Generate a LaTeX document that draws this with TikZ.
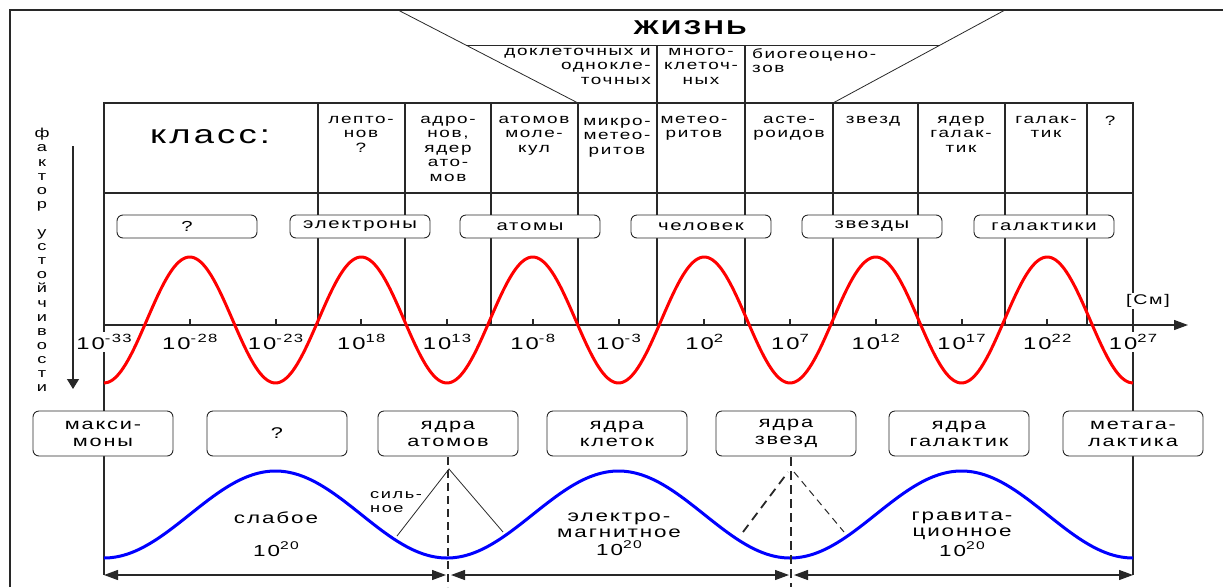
\documentclass[tikz,border=0pt]{standalone}
\usepackage{fontspec}
\setmainfont{Liberation Sans}[FakeStretch=1.4,LetterSpace=12]
\usetikzlibrary{positioning,arrows.meta}
\definecolor{Ink}{RGB}{40,40,40}
\definecolor{WaveRed}{RGB}{255,0,0}
\definecolor{WaveBlue}{RGB}{0,0,255}
\newcommand\tenp[1]{10\raisebox{0.42em}{\scalebox{0.7}{#1}}}

\begin{document}
\begin{tikzpicture}[x=1pt,y=-1pt,
    gridline/.style={draw=Ink,line width=1.2pt},
    hairline/.style={draw=Ink,line width=0.8pt},
    cellText/.style={anchor=north,align=center,inner sep=0pt,font=\fontsize{13.5}{14.5}\selectfont},
    scaleBox/.style={rectangle,rounded corners=6pt,draw=Ink,line width=0.9pt,fill=white,
                minimum width=140pt,minimum height=23pt,font=\fontsize{14.5}{16}\selectfont},
    coreBox/.style={scaleBox,minimum height=45pt,align=center,font=\fontsize{15.5}{17}\selectfont},
    expLabel/.style={font=\fontsize{17}{17}\selectfont,fill=white,inner xsep=1pt,inner ysep=2pt},
    redWave/.style={WaveRed,line width=3pt,line join=round},
    blueWave/.style={WaveBlue,line width=3pt,line join=round},
    forceArrow/.style={<->,>={Triangle[length=14pt,width=10pt]},line width=1.2pt,Ink},
    forceText/.style={align=center,font=\fontsize{16}{16.5}\selectfont}
]
\useasboundingbox (0,0) rectangle (1223,587);

% Frame
\draw[gridline,line width=1.6pt] (10,587) -- (10,10) -- (1223,10);

% Life band
\draw[hairline] (398,10) -- (578,103);
\draw[hairline] (1005,10) -- (833,103);
\draw[hairline] (466,45) -- (940,45);
\draw[gridline] (657,45) -- (657,103) (745,45) -- (745,103);
\node[font=\fontsize{20}{20}\selectfont\bfseries] (life) at (690,28) {ЖИЗНЬ};
\node[cellText,anchor=north east,align=right] (precell) at (651,48) {доклеточных и\\однокле-\\точных};
\node[cellText] (multicell) at (701,48) {много-\\клеточ-\\ных};
\node[cellText,anchor=north west,align=left] (biogeo) at (752,48) {биогеоцено-\\зов};

% Class table
\draw[gridline] (104,103) rectangle (1133,193);
\foreach \cx in {318,405,491,578,657,745,833,918,1005,1087}
  \draw[gridline] (\cx,103) -- (\cx,325);
\draw[gridline] (104,193) -- (104,575);
\draw[gridline] (1133,193) -- (1133,575);

\node[font=\fontsize{26}{26}\selectfont] (class) at (210,137) {класс:};
\node[cellText] (lepton) at (361,116) {лепто-\\нов\\?};
\node[cellText] (hadron) at (448,116) {адро-\\нов,\\ядер\\ато-\\мов};
\node[cellText] (atommol) at (534,116) {атомов\\моле-\\кул};
\node[cellText] (micromet) at (617,118) {микро-\\метео-\\ритов};
\node[cellText] (meteor) at (694,116) {метео-\\ритов};
\node[cellText] (aster) at (789,116) {асте-\\роидов};
\node[cellText] (stars) at (873,116) {звезд};
\node[cellText] (galcore) at (961,116) {ядер\\галак-\\тик};
\node[cellText] (galax) at (1046,116) {галак-\\тик};
\node[cellText] (unknown) at (1110,116) {?};

% Stability factor
\node[font=\fontsize{13}{14.1}\selectfont,align=center,inner sep=0pt] (factor) at (42,260)
  {ф\\а\\к\\т\\о\\р\\[14.1pt]у\\с\\т\\о\\й\\ч\\и\\в\\о\\с\\т\\и};
\coordinate (fa) at (73,146);
\coordinate (fb) at (73,389);
\draw[gridline,-{Triangle[length=10pt,width=12pt]}] (fa) -- (fb);

% Scale axis
\foreach \e [count=\k from 0] in {-33,-28,-23,18,13,-8,-3,2,7,12,17,22,27}
  \node[expLabel] (e\k) at (104+85.75*\k,342) {\tenp{\e}};
\node[font=\fontsize{14}{14}\selectfont,fill=white,inner sep=1pt] (unit) at (1148,301) {[См]};
\coordinate (ax0) at (104,325);
\coordinate (ax1) at (1188,325);
\draw[gridline,-{Triangle[length=14pt,width=10pt]}] (ax0) -- (ax1);
\foreach \k in {0,...,12}
  \draw[Ink,line width=2pt] (104+85.75*\k,325) -- ++(0,-6);

% Waves
\draw[redWave] plot[domain=104:1133,samples=241,smooth] (\x,{320+63*cos((\x-104)/171.5*360)});
\draw[blueWave] plot[domain=104:1133,samples=181,smooth] (\x,{514.5+43.5*cos((\x-104)/343*360)});

% Objects
\node[scaleBox] (obj0) at (187,226.5) {?};
\node[scaleBox] (obj1) at (360,226.5) {электроны};
\node[scaleBox] (obj2) at (530,226.5) {атомы};
\node[scaleBox] (obj3) at (701,226.5) {человек};
\node[scaleBox] (obj4) at (872,226.5) {звезды};
\node[scaleBox] (obj5) at (1044,226.5) {галактики};

% Cores
\node[coreBox] (maxim) at (103,433.5) {макси-\\моны};
\node[coreBox] (core0) at (277,433.5) {?};
\node[coreBox] (core1) at (448,433.5) {ядра\\атомов};
\node[coreBox] (core2) at (617,433.5) {ядра\\клеток};
\node[coreBox] (core3) at (786,433.5) {ядра\\звезд};
\node[coreBox] (core4) at (959,433.5) {ядра\\галактик};
\node[coreBox] (metagal) at (1133,433.5) {метага-\\лактика};

% Interactions
\draw[Ink,dashed,line width=1.3pt,dash pattern=on 8pt off 5pt] (448,457) -- (448,587);
\draw[Ink,dashed,line width=2.4pt,dash pattern=on 9pt off 5pt] (791,457) -- (791,587);
\draw[hairline] (397,536) -- (449,469) -- (503,532);
\draw[Ink,line width=1.8pt,dash pattern=on 9pt off 6pt] (743,532) -- (788,472);
\draw[Ink,line width=1pt,dash pattern=on 7pt off 5pt] (794,472) -- (844,532);
\node[font=\fontsize{13}{13.5}\selectfont,align=left,anchor=west,inner sep=0pt] (strong) at (370,502) {силь-\\ное};
\node[forceText] (weak) at (276,518) {слабое};
\node[forceText] (weakval) at (276,549) {\tenp{20}};
\node[forceText] (emag) at (619,534) {электро-\\магнитное\\[1pt]\tenp{20}};
\node[forceText] (grav) at (962,534) {гравита-\\ционное\\[1pt]\tenp{20}};

\coordinate (b0) at (104,575);
\coordinate (b1) at (446,575);
\coordinate (b2) at (451,575);
\coordinate (b3) at (789,575);
\coordinate (b4) at (794,575);
\coordinate (b5) at (1133,575);
\draw[forceArrow] (b0) -- (b1);
\draw[forceArrow] (b2) -- (b3);
\draw[forceArrow] (b4) -- (b5);

\end{tikzpicture}
\end{document}
